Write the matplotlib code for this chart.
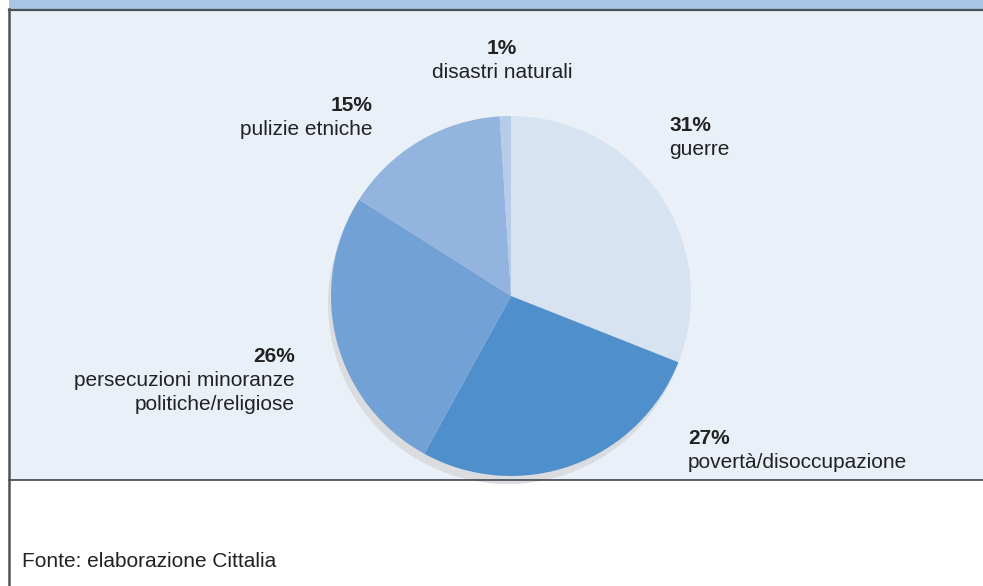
import matplotlib.pyplot as plt
from matplotlib.patches import Rectangle, Circle

plt.rcParams['font.family'] = ['Liberation Sans', 'DejaVu Sans']

# Motivi della migrazione, quote percentuali (senso orario dall'alto)
motivi = ["guerre", "povertà/disoccupazione",
          "persecuzioni minoranze\npolitiche/religiose",
          "pulizie etniche", "disastri naturali"]
quote = [31, 27, 26, 15, 1]
colori = ["#d8e3f2", "#4f8fcb", "#72a2d5", "#93b4de", "#b6cce9"]

W, H = 983, 586
fig = plt.figure(figsize=(W / 100, H / 100), dpi=100)
ax = fig.add_axes([0, 0, 1, 1])

# pannello, testata e piede
ax.add_patch(Rectangle((9, H - 9), W, 9, color="#a9c4e4", lw=0))
ax.add_patch(Rectangle((9, H - 480), W, 471, color="#e9f0f8", lw=0))
ax.plot([9, W], [H - 9.5, H - 9.5], color="#4e5258", lw=1.6)
ax.plot([9, W], [H - 479.5, H - 479.5], color="#4e5258", lw=1.3)
ax.plot([8.5, 8.5], [0, H - 9], color="#4e5258", lw=1.8)

cx, cy, r = 511, H - 296, 180
ax.add_patch(Circle((cx - 3, cy - 8), r, color="#dadcdf", lw=0, zorder=1))
ax.pie(quote, colors=colori, startangle=90, counterclock=False,
       center=(cx, cy), radius=r, frame=True,
       wedgeprops=dict(linewidth=0, zorder=2))
ax.set_xlim(0, W)
ax.set_ylim(0, H)
ax.set_aspect("equal")
ax.axis("off")

# posizione (x, y della prima riga) e allineamento delle etichette
pos = [(669, 131, "left"), (688, 444, "left"), (295, 362, "right"),
       (373, 111, "right"), (502, 54, "center")]
for m, q, (x, y, ha) in zip(motivi, quote, pos):
    ax.text(x, H - y, f"{q}%", ha=ha, va="baseline", fontsize=15,
            fontweight="bold", color="#222222")
    for i, riga in enumerate(m.split("\n")):
        ax.text(x, H - y - 24 * (i + 1), riga, ha=ha, va="baseline",
                fontsize=15, color="#222222")

ax.text(22, H - 567, "Fonte: elaborazione Cittalia", ha="left",
        va="baseline", fontsize=15, color="#222222")

fig.savefig("out.png", dpi=100)
